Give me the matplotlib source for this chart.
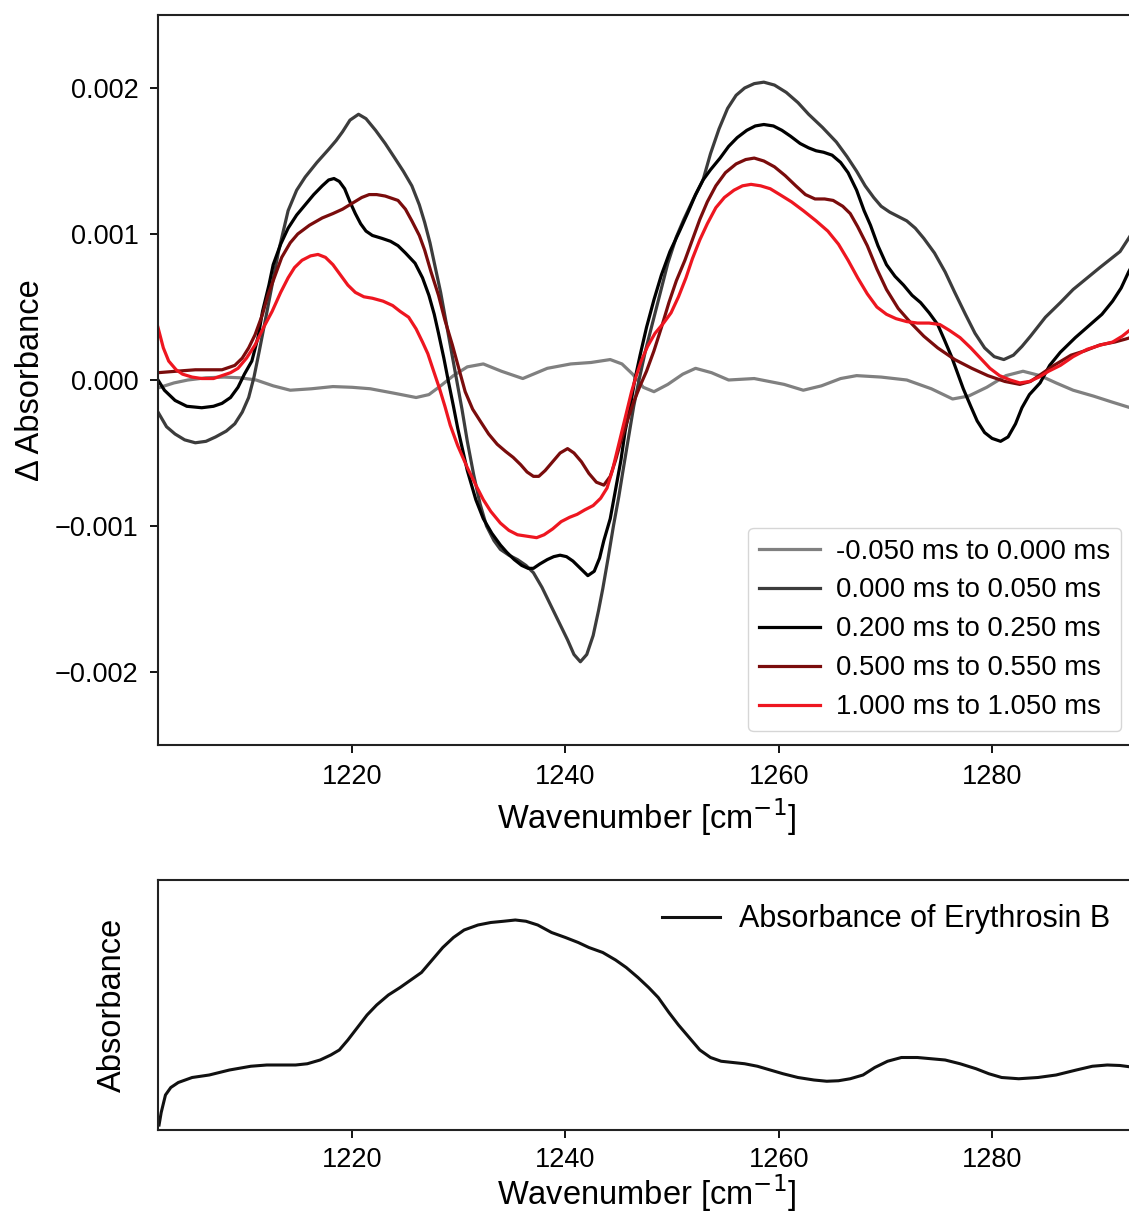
import numpy as np
import matplotlib
matplotlib.use("Agg")
import matplotlib.pyplot as plt
from matplotlib.ticker import FuncFormatter

plt.rcParams['font.family'] = ['Liberation Sans', 'DejaVu Sans']

# difference spectra, values in units of 1e-3
labels = ['-0.050 ms to 0.000 ms', '0.000 ms to 0.050 ms', '0.200 ms to 0.250 ms',
          '0.500 ms to 0.550 ms', '1.000 ms to 1.050 ms']
colors = ['#808080', '#3c3c3c', '#000000', '#7a0c0c', '#ee1620']

wn_a = [1202.0, 1203.3, 1204.6, 1206.3, 1208.0, 1209.5, 1211.0, 1212.6, 1214.2, 1216.2,
        1218.2, 1220.0, 1221.7, 1223.9, 1226.0, 1227.2, 1228.3, 1229.5, 1230.8, 1232.3,
        1234.0, 1236.0, 1238.3, 1240.5, 1242.4, 1244.2, 1245.3, 1246.3, 1247.3, 1248.3,
        1249.6, 1251.0, 1252.2, 1253.7, 1255.3, 1257.7, 1260.5, 1262.3, 1264.0, 1265.8,
        1267.3, 1269.6, 1272.0, 1274.3, 1276.3, 1277.8, 1279.5, 1281.3, 1282.9, 1284.5,
        1286.0, 1287.6, 1289.5, 1291.2, 1293.4]
dA_a = [-0.05, -0.02, 0.0, 0.015, 0.02, 0.015, 0.0, -0.04, -0.07, -0.06,
        -0.045, -0.05, -0.06, -0.09, -0.12, -0.1, -0.04, 0.03, 0.09, 0.11,
        0.06, 0.01, 0.08, 0.11, 0.12, 0.14, 0.11, 0.04, -0.05, -0.08,
        -0.03, 0.04, 0.08, 0.05, 0.0, 0.01, -0.03, -0.07, -0.04, 0.01,
        0.03, 0.02, 0.0, -0.06, -0.13, -0.11, -0.05, 0.03, 0.06, 0.03,
        -0.02, -0.07, -0.11, -0.15, -0.2]

wn_b = [1201.8, 1202.6, 1203.4, 1204.3, 1205.3, 1206.3, 1207.2, 1208.2, 1209.0, 1209.7,
        1210.3, 1210.8, 1211.3, 1212.1, 1213.1, 1214.0, 1214.8, 1215.6, 1216.7, 1217.8,
        1218.5, 1219.1, 1219.8, 1220.6, 1221.3, 1222.2, 1223.1, 1224.0, 1224.8, 1225.6,
        1226.3, 1226.8, 1227.3, 1227.8, 1228.3, 1228.8, 1229.3, 1229.8, 1230.3, 1230.8,
        1231.4, 1232.0, 1232.6, 1233.3, 1233.9, 1234.7, 1235.5, 1236.3, 1237.0, 1237.8,
        1238.6, 1239.4, 1240.2, 1240.8, 1241.4, 1242.0, 1242.6, 1243.1, 1243.5, 1244.0,
        1244.5, 1245.0, 1245.4, 1245.9, 1246.4, 1246.9, 1247.5, 1248.2, 1248.9, 1249.6,
        1250.4, 1251.1, 1252.0, 1252.9, 1253.6, 1254.4, 1255.2, 1256.0, 1256.8, 1257.7,
        1258.6, 1259.6, 1260.7, 1261.8, 1262.8, 1264.1, 1265.4, 1266.4, 1267.3, 1268.1,
        1268.9, 1269.6, 1270.4, 1271.2, 1272.0, 1272.8, 1273.6, 1274.6, 1275.6, 1276.5,
        1277.5, 1278.4, 1279.3, 1280.2, 1281.1, 1282.0, 1282.8, 1283.6, 1285.0, 1286.4,
        1287.6, 1290.1, 1292.0, 1292.8, 1293.4]
dA_b = [-0.22, -0.32, -0.37, -0.41, -0.43, -0.42, -0.39, -0.35, -0.30, -0.22,
        -0.12, 0.02, 0.2, 0.5, 0.88, 1.16, 1.3, 1.39, 1.49, 1.58,
        1.64, 1.70, 1.78, 1.82, 1.79, 1.71, 1.62, 1.52, 1.43, 1.33,
        1.2, 1.08, 0.94, 0.77, 0.6, 0.4, 0.2, 0.0, -0.2, -0.42,
        -0.65, -0.85, -1.0, -1.1, -1.16, -1.2, -1.23, -1.27, -1.32, -1.42,
        -1.54, -1.66, -1.78, -1.88, -1.93, -1.88, -1.75, -1.58, -1.43, -1.22,
        -1.0, -0.8, -0.62, -0.4, -0.18, 0.0, 0.2, 0.4, 0.6, 0.8,
        0.98, 1.1, 1.24, 1.37, 1.55, 1.72, 1.86, 1.95, 2.0, 2.03,
        2.04, 2.02, 1.97, 1.9, 1.82, 1.73, 1.63, 1.53, 1.43, 1.33,
        1.25, 1.19, 1.15, 1.12, 1.09, 1.04, 0.97, 0.87, 0.74, 0.6,
        0.45, 0.32, 0.22, 0.16, 0.14, 0.17, 0.23, 0.3, 0.43, 0.53,
        0.62, 0.77, 0.88, 0.97, 1.04]

wn_c = [1201.8, 1202.4, 1203.4, 1204.5, 1205.9, 1207.0, 1207.8, 1208.6, 1209.3, 1209.9,
        1210.6, 1211.2, 1211.6, 1212.2, 1212.6, 1213.3, 1214.0, 1214.8, 1215.6, 1216.4,
        1217.2, 1217.8, 1218.3, 1218.8, 1219.3, 1219.8, 1220.3, 1220.8, 1221.3, 1221.9,
        1222.8, 1223.6, 1224.3, 1225.0, 1225.9, 1226.6, 1227.2, 1227.7, 1228.1, 1228.6,
        1229.0, 1229.5, 1229.9, 1230.8, 1231.6, 1232.3, 1233.1, 1233.9, 1234.5, 1235.2,
        1235.9, 1236.5, 1237.0, 1237.6, 1238.3, 1238.9, 1239.5, 1240.1, 1240.7, 1241.4,
        1242.1, 1242.7, 1243.2, 1243.6, 1244.2, 1244.7, 1245.2, 1245.6, 1246.1, 1246.5,
        1247.0, 1247.6, 1248.3, 1249.0, 1249.8, 1250.7, 1251.5, 1252.2, 1252.9, 1253.6,
        1254.5, 1255.3, 1256.1, 1257.0, 1257.8, 1258.6, 1259.5, 1260.3, 1261.1, 1262.0,
        1262.8, 1263.5, 1264.2, 1265.0, 1265.8, 1266.5, 1267.3, 1268.0, 1268.6, 1269.3,
        1270.1, 1270.9, 1271.7, 1272.5, 1273.3, 1274.1, 1274.9, 1275.5, 1276.2, 1276.7,
        1277.3, 1278.0, 1278.6, 1279.3, 1280.0, 1280.8, 1281.5, 1282.2, 1282.8, 1283.5,
        1284.5, 1285.4, 1286.4, 1287.8, 1289.2, 1290.3, 1291.3, 1292.1, 1292.8, 1293.4]
dA_c = [0.0, -0.07, -0.14, -0.18, -0.19, -0.18, -0.16, -0.12, -0.05, 0.04,
        0.13, 0.3, 0.47, 0.65, 0.79, 0.93, 1.04, 1.13, 1.2, 1.27,
        1.33, 1.37, 1.38, 1.36, 1.31, 1.22, 1.14, 1.07, 1.02, 0.99,
        0.97, 0.95, 0.92, 0.87, 0.8, 0.7, 0.58, 0.45, 0.32, 0.15,
        0.0, -0.18, -0.33, -0.62, -0.82, -0.95, -1.05, -1.13, -1.18, -1.23,
        -1.27, -1.29, -1.29, -1.26, -1.23, -1.21, -1.2, -1.21, -1.24, -1.29,
        -1.34, -1.31, -1.22, -1.1, -0.95, -0.75, -0.55, -0.35, -0.17, 0.0,
        0.17, 0.36, 0.55, 0.72, 0.88, 1.02, 1.15, 1.27, 1.37, 1.44,
        1.52, 1.6, 1.66, 1.71, 1.74, 1.75, 1.74, 1.71, 1.67, 1.62,
        1.59, 1.57, 1.56, 1.54, 1.49, 1.42, 1.3, 1.16, 1.06, 0.92,
        0.79, 0.71, 0.65, 0.58, 0.53, 0.46, 0.38, 0.28, 0.16, 0.06,
        -0.06, -0.18, -0.28, -0.36, -0.40, -0.42, -0.39, -0.3, -0.19, -0.1,
        -0.02, 0.1, 0.19, 0.29, 0.38, 0.45, 0.54, 0.63, 0.74, 0.82]

wn_d = [1201.8, 1203.5, 1205.3, 1207.8, 1209.0, 1209.7, 1210.3, 1210.9, 1211.6, 1212.1,
        1212.8, 1213.4, 1214.2, 1214.9, 1216.0, 1217.2, 1218.2, 1219.1, 1220.0, 1220.9,
        1221.6, 1222.3, 1223.1, 1224.3, 1225.0, 1225.6, 1226.3, 1226.8, 1227.4, 1228.1,
        1228.7, 1229.4, 1230.0, 1230.6, 1231.3, 1232.0, 1232.8, 1233.6, 1234.4, 1235.1,
        1235.8, 1236.4, 1237.0, 1237.5, 1238.1, 1238.8, 1239.5, 1240.2, 1240.8, 1241.5,
        1242.2, 1242.9, 1243.6, 1244.2, 1244.7, 1245.2, 1245.8, 1246.4, 1247.0, 1247.6,
        1248.3, 1249.0, 1249.7, 1250.4, 1251.2, 1251.9, 1252.6, 1253.3, 1254.1, 1255.0,
        1256.0, 1256.9, 1257.7, 1258.6, 1259.6, 1260.6, 1261.6, 1262.5, 1263.4, 1264.3,
        1265.1, 1266.0, 1266.7, 1267.4, 1268.3, 1269.2, 1270.1, 1271.2, 1272.4, 1273.6,
        1274.9, 1276.5, 1278.1, 1279.6, 1281.2, 1282.6, 1283.6, 1284.6, 1285.8, 1287.4,
        1288.7, 1290.1, 1291.5, 1292.5, 1293.4]
dA_d = [0.05, 0.06, 0.07, 0.07, 0.1, 0.15, 0.22, 0.31, 0.45, 0.58,
        0.72, 0.84, 0.94, 1.0, 1.06, 1.11, 1.14, 1.17, 1.21, 1.25,
        1.27, 1.27, 1.26, 1.23, 1.17, 1.09, 0.99, 0.89, 0.74, 0.58,
        0.41, 0.24, 0.08, -0.08, -0.2, -0.28, -0.37, -0.44, -0.49, -0.53,
        -0.58, -0.63, -0.66, -0.66, -0.62, -0.56, -0.5, -0.47, -0.5, -0.56,
        -0.64, -0.7, -0.72, -0.66, -0.55, -0.42, -0.28, -0.15, -0.04, 0.06,
        0.2, 0.36, 0.53, 0.68, 0.82, 0.96, 1.1, 1.22, 1.33, 1.42,
        1.48, 1.51, 1.52, 1.5, 1.46, 1.4, 1.33, 1.27, 1.24, 1.24,
        1.23, 1.19, 1.14, 1.05, 0.92, 0.76, 0.62, 0.49, 0.39, 0.3,
        0.22, 0.14, 0.08, 0.03, -0.01, -0.03, -0.01, 0.04, 0.1, 0.17,
        0.2, 0.24, 0.26, 0.28, 0.3]

wn_e = [1201.8, 1202.3, 1202.8, 1203.5, 1204.1, 1205.0, 1205.9, 1207.0, 1207.8, 1208.6,
        1209.3, 1210.1, 1210.9, 1211.7, 1212.5, 1213.3, 1214.0, 1214.6, 1215.3, 1216.1,
        1216.8, 1217.5, 1218.2, 1218.9, 1219.6, 1220.3, 1221.1, 1221.9, 1222.9, 1223.8,
        1224.5, 1225.3, 1226.0, 1226.6, 1227.1, 1227.6, 1228.2, 1228.7, 1229.2, 1229.9,
        1230.8, 1231.6, 1232.3, 1233.0, 1233.9, 1234.7, 1235.5, 1236.4, 1237.3, 1238.0,
        1238.8, 1239.6, 1240.4, 1241.1, 1241.8, 1242.6, 1243.3, 1243.9, 1244.4, 1244.8,
        1245.3, 1245.8, 1246.2, 1246.6, 1247.1, 1247.7, 1248.4, 1249.2, 1249.9, 1250.6,
        1251.3, 1251.9, 1252.6, 1253.3, 1254.1, 1254.9, 1255.8, 1256.6, 1257.4, 1258.3,
        1259.2, 1260.1, 1261.2, 1262.3, 1263.5, 1264.6, 1265.6, 1266.5, 1267.4, 1268.3,
        1269.2, 1270.1, 1271.0, 1272.0, 1273.0, 1274.1, 1275.1, 1276.0, 1277.0, 1278.0,
        1278.9, 1279.8, 1280.7, 1281.7, 1282.6, 1283.5, 1284.4, 1285.3, 1286.4, 1287.6,
        1288.9, 1290.2, 1291.3, 1292.2, 1293.4]
dA_e = [0.36, 0.22, 0.13, 0.07, 0.04, 0.02, 0.01, 0.01, 0.03, 0.05,
        0.08, 0.15, 0.24, 0.36, 0.47, 0.6, 0.7, 0.77, 0.82, 0.85,
        0.86, 0.84, 0.79, 0.72, 0.65, 0.6, 0.57, 0.56, 0.54, 0.51,
        0.47, 0.43, 0.35, 0.26, 0.18, 0.07, -0.06, -0.18, -0.31, -0.45,
        -0.6, -0.72, -0.82, -0.9, -0.98, -1.03, -1.06, -1.07, -1.08, -1.06,
        -1.02, -0.97, -0.94, -0.92, -0.89, -0.86, -0.81, -0.74, -0.62, -0.5,
        -0.35, -0.2, -0.08, 0.02, 0.13, 0.23, 0.32, 0.39, 0.46, 0.57,
        0.7, 0.83, 0.96, 1.07, 1.18, 1.25, 1.3, 1.33, 1.34, 1.33,
        1.31, 1.27, 1.22, 1.16, 1.09, 1.02, 0.93, 0.82, 0.7, 0.59,
        0.5, 0.45, 0.42, 0.4, 0.39, 0.39, 0.38, 0.34, 0.29, 0.22,
        0.15, 0.08, 0.03, 0.0, -0.02, -0.01, 0.02, 0.06, 0.1, 0.16,
        0.21, 0.24, 0.26, 0.3, 0.37]

# static absorbance of Erythrosin B (arbitrary units)
wn_abs = [1201.9, 1202.1, 1202.5, 1203.0, 1203.7, 1205.0, 1206.6, 1208.5, 1210.5, 1212.0,
          1213.5, 1214.7, 1215.8, 1217.0, 1218.0, 1218.8, 1219.6, 1220.5, 1221.4, 1222.3,
          1223.4, 1224.5, 1225.5, 1226.5, 1227.5, 1228.5, 1229.5, 1230.5, 1231.8, 1233.0,
          1234.2, 1235.3, 1236.3, 1237.4, 1238.7, 1240.0, 1241.2, 1242.2, 1243.5, 1244.7,
          1245.7, 1246.8, 1247.8, 1248.7, 1249.7, 1250.6, 1251.6, 1252.6, 1253.6, 1254.6,
          1255.7, 1256.8, 1258.0, 1259.2, 1260.4, 1261.8, 1263.3, 1264.5, 1265.6, 1266.7,
          1267.9, 1269.0, 1270.2, 1271.5, 1273.0, 1274.3, 1275.6, 1277.0, 1278.5, 1279.7,
          1280.9, 1282.5, 1284.3, 1286.0, 1287.9, 1289.4, 1290.8, 1292.0, 1293.4]
absorb = [0.02, 0.07, 0.14, 0.17, 0.19, 0.21, 0.22, 0.24, 0.255, 0.26,
          0.26, 0.26, 0.265, 0.28, 0.30, 0.32, 0.36, 0.41, 0.46, 0.50,
          0.54, 0.57, 0.60, 0.63, 0.68, 0.73, 0.77, 0.80, 0.82, 0.83,
          0.835, 0.84, 0.835, 0.82, 0.79, 0.77, 0.75, 0.73, 0.71, 0.68,
          0.65, 0.61, 0.57, 0.53, 0.47, 0.42, 0.37, 0.32, 0.29, 0.275,
          0.27, 0.265, 0.255, 0.24, 0.225, 0.21, 0.20, 0.195, 0.197, 0.205,
          0.22, 0.25, 0.275, 0.29, 0.29, 0.285, 0.28, 0.265, 0.245, 0.225,
          0.21, 0.205, 0.21, 0.22, 0.24, 0.255, 0.26, 0.258, 0.25]

wn_series = [wn_a, wn_b, wn_c, wn_d, wn_e]
dA_series = [dA_a, dA_b, dA_c, dA_d, dA_e]

W, H = 1129, 1214
fig = plt.figure(figsize=(W / 100, H / 100), dpi=100)
ax1 = fig.add_axes([158 / W, 1 - 745 / H, (1135 - 158) / W, 730 / H])
ax2 = fig.add_axes([158 / W, 1 - 1130 / H, (1135 - 158) / W, 250 / H])

for x, y, c, lab in zip(wn_series, dA_series, colors, labels):
    ax1.plot(x, np.array(y) * 1e-3, color=c, lw=2.3, label=lab)

ax1.set_xlim(1201.8, 1293.4)
ax1.set_ylim(-0.0025, 0.0025)
ax1.set_xticks([1220, 1240, 1260, 1280])
ax1.set_yticks([-0.002, -0.001, 0.0, 0.001, 0.002])
ax1.yaxis.set_major_formatter(FuncFormatter(lambda v, p: ('%.3f' % (round(v, 6) + 0.0)).replace('-', '\u2212')))
ax1.set_xlabel('Wavenumber [cm$^{-1}$]', fontsize=23.5)
ax1.set_ylabel('\u0394 Absorbance', fontsize=23.5, labelpad=6)
ax1.legend(loc='lower right', fontsize=19.8, labelspacing=0.47, handlelength=2.2,
           handletextpad=0.6, borderpad=0.4, borderaxespad=0.5)

ax2.plot(wn_abs, absorb, color='#111111', lw=2.2, label='Absorbance of Erythrosin B')
ax2.set_xlim(1201.8, 1293.4)
ax2.set_ylim(0, 1)
ax2.set_xticks([1220, 1240, 1260, 1280])
ax2.set_yticks([])
ax2.set_xlabel('Wavenumber [cm$^{-1}$]', fontsize=23.5, labelpad=0)
ax2.set_ylabel('Absorbance', fontsize=23.5, labelpad=22)
ax2.legend(loc='upper right', fontsize=22, frameon=False, handlelength=1.9,
           handletextpad=0.65, borderaxespad=0.4)

for ax in (ax1, ax2):
    ax.tick_params(labelsize=19.5, length=6, width=1.3, pad=8)
    for s in ax.spines.values():
        s.set_linewidth(1.5)
        s.set_color('#222222')
ax2.tick_params(axis='x', pad=6)

fig.savefig('out.png', dpi=100)
